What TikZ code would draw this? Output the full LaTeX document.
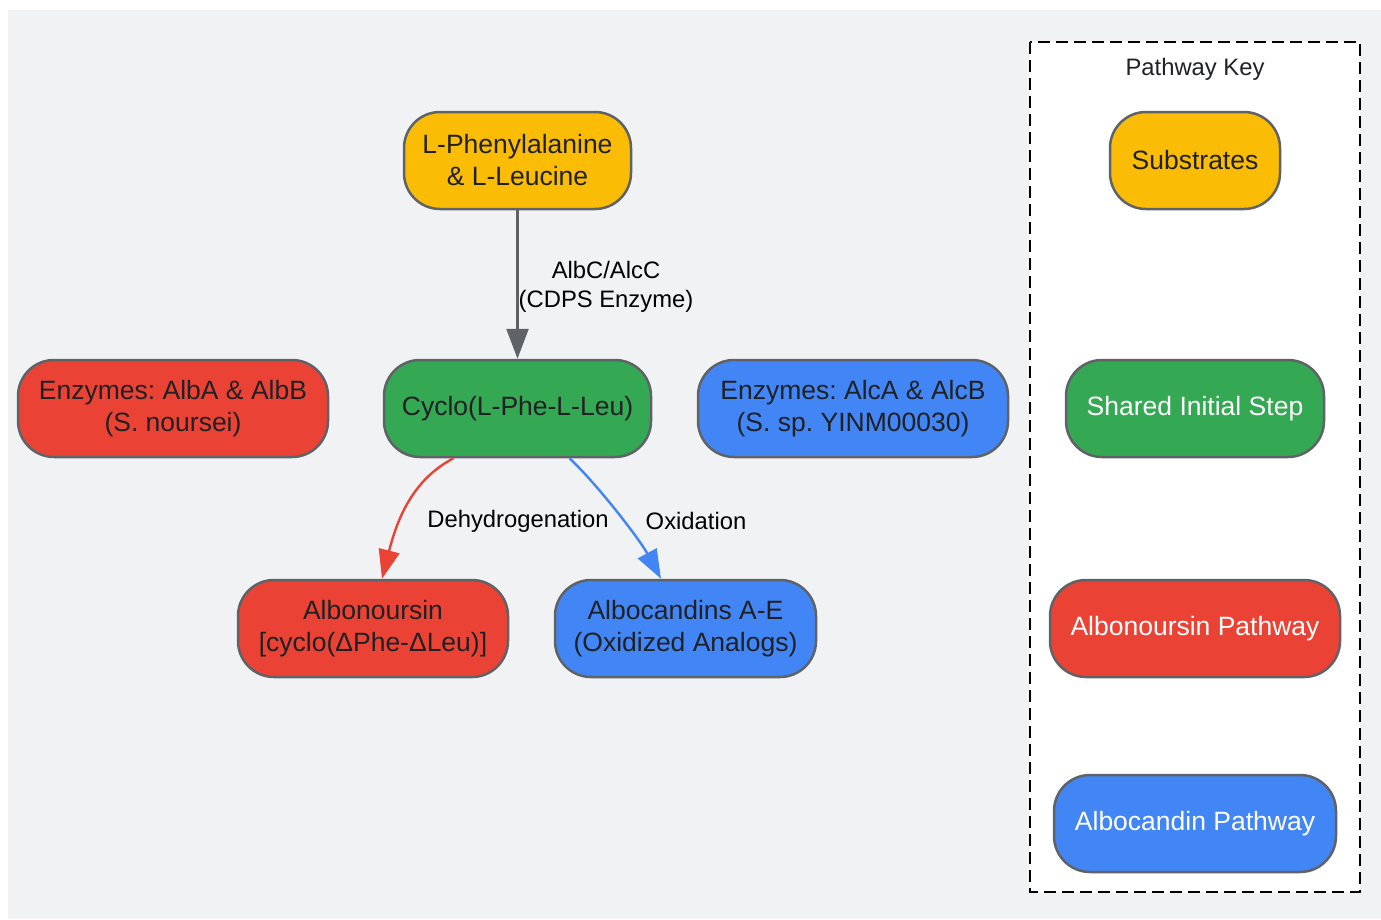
\documentclass[tikz,border=0pt]{standalone}
\usepackage{fontspec}
\setmainfont{Liberation Sans}
\usetikzlibrary{positioning,arrows.meta}
\definecolor{canvas}{HTML}{F1F2F4}
\definecolor{subst}{HTML}{FBBC05}
\definecolor{shared}{HTML}{34A853}
\definecolor{albo}{HTML}{EA4335}
\definecolor{alboc}{HTML}{4285F4}
\definecolor{rim}{HTML}{5F6368}
\definecolor{ink}{HTML}{202124}

\begin{document}
\frenchspacing
\begin{tikzpicture}[x=1pt,y=-1pt,
        stage/.style={draw=rim, line width=2.5pt, rounded corners=36pt,
                      minimum height=97pt, inner sep=0pt, align=center,
                      text=ink, font=\fontsize{26.5}{32}\selectfont},
        keybox/.style={stage, text=white},
        steplabel/.style={align=center, text=black, font=\fontsize{23.8}{28.5}\selectfont},
        flow/.style={line width=2.4pt, -{Triangle[length=29pt,width=21pt]}}]

        % background and page size
        \useasboundingbox (0,0) rectangle (1381,919);
        \fill[canvas] (8,10) rectangle (1381,919);

        % main pathway
        \node[stage, fill=subst, minimum width=227pt] (phe) at (517.5,160.5) {L-Phenylalanine\\\& L-Leucine};
        \node[stage, fill=shared, minimum width=267pt] (cyclo) at (517.5,408.5) {Cyclo(L-Phe-L-Leu)};
        \node[stage, fill=albo, minimum width=310pt] (albab) at (173,408.5) {Enzymes: AlbA \& AlbB\\(S. noursei)};
        \node[stage, fill=alboc, minimum width=310pt] (alcab) at (853,408.5) {Enzymes: AlcA \& AlcB\\(S. sp. YINM00030)};
        \node[stage, fill=albo, minimum width=270pt] (albonoursin) at (373,628.5) {Albonoursin\\{[}cyclo(ΔPhe-ΔLeu)]};
        \node[stage, fill=alboc, minimum width=261pt] (albocandin) at (685.5,628.5) {Albocandins A-E\\(Oxidized Analogs)};

        \draw[rim, line width=2.5pt, -{Triangle[length=30pt,width=22pt]}] (phe) -- (cyclo);
        \node[steplabel] (cdps) at (606,287) {AlbC/AlcC\\(CDPS Enzyme)};

        \draw[flow, albo] ([xshift=-64pt]cyclo.south) .. controls (412,480) and (397,520) .. ([xshift=9pt]albonoursin.north);
        \draw[flow, alboc] ([xshift=52pt]cyclo.south) .. controls (598,485) and (640,540) .. ([xshift=-24.5pt]albocandin.north);
        \node[steplabel] (dehyd) at (518,521) {Dehydrogenation};
        \node[steplabel] (oxid) at (696,521) {Oxidation};

        % key
        \draw[black, line width=2.5pt, dash pattern=on 12pt off 6pt, fill=white] (1030,42) rectangle (1360,892);
        \node[steplabel, text=ink] (keytitle) at (1195,69) {Pathway Key};
        \node[stage, fill=subst, minimum width=170pt] (keysubst) at (1195,160.5) {Substrates};
        \node[keybox, fill=shared, minimum width=258pt] (keyshared) at (1195,408.5) {Shared Initial Step};
        \node[keybox, fill=albo, minimum width=290pt] (keyalbo) at (1195,628.5) {Albonoursin Pathway};
        \node[keybox, fill=alboc, minimum width=282pt] (keyalboc) at (1195,823.5) {Albocandin Pathway};

\end{tikzpicture}
\end{document}
